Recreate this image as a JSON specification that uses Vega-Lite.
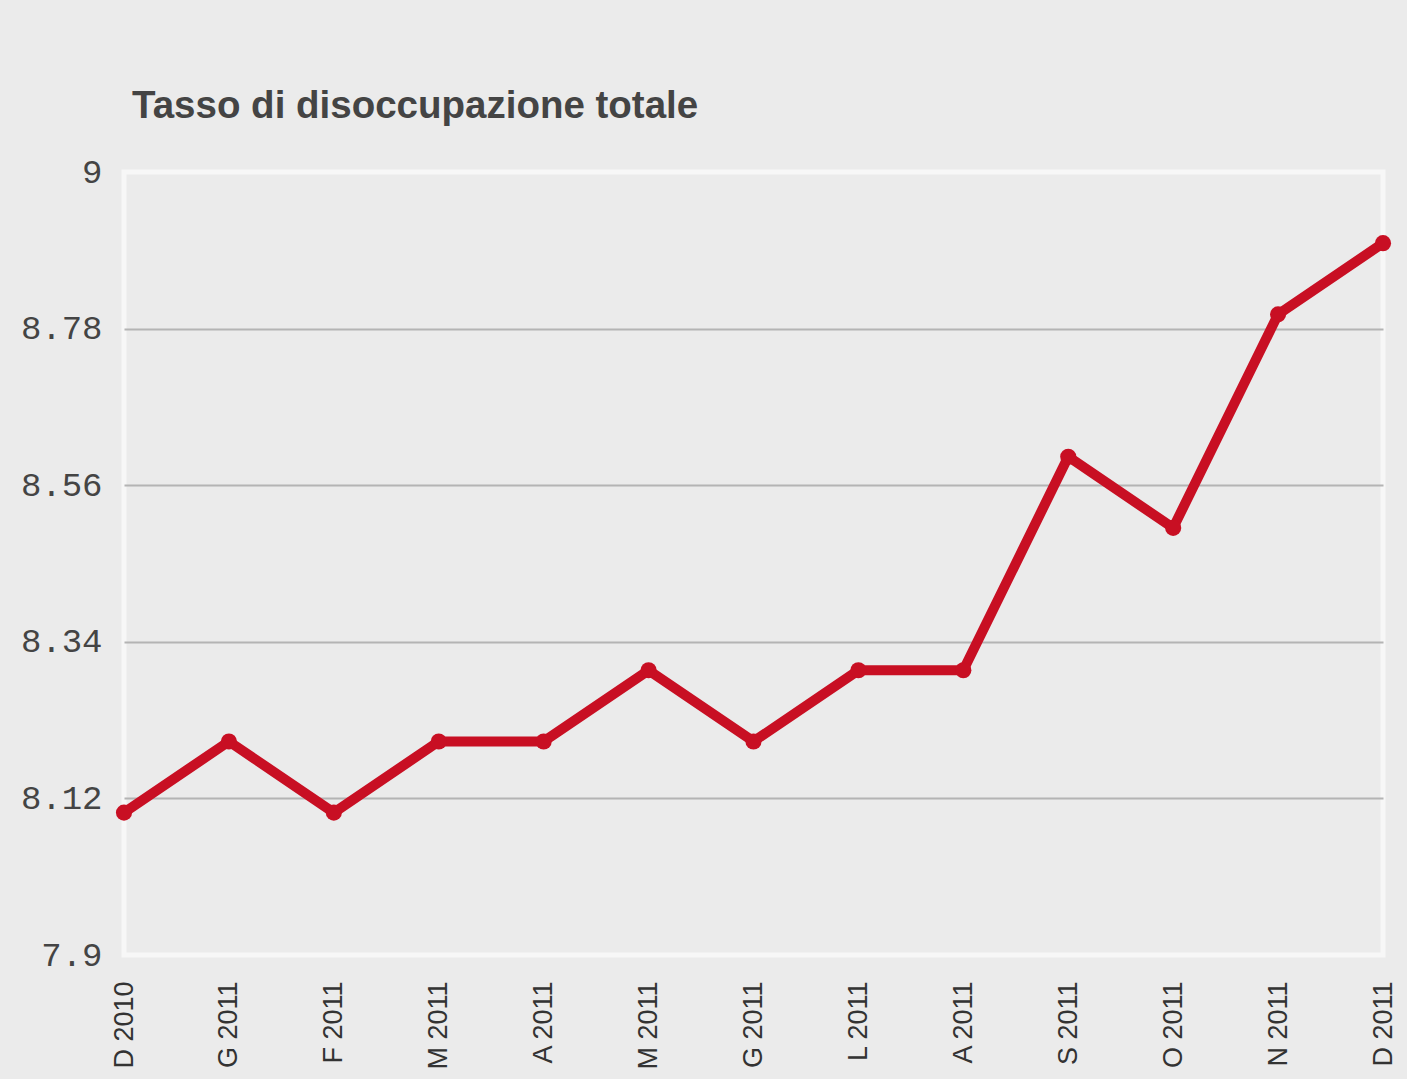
{
  "$schema": "https://vega.github.io/schema/vega-lite/v6.json",
  "autosize": {"type": "none"},
  "padding": {"left": 124, "top": 172, "right": 24, "bottom": 124},
  "width": 1259,
  "height": 783,
  "background": "#ebebeb",
  "title": {
    "text": "Tasso di disoccupazione totale",
    "anchor": "start",
    "frame": "group",
    "dx": 8,
    "offset": 29,
    "font": "Liberation Sans",
    "fontSize": 38.5,
    "fontWeight": "bold",
    "color": "#444444"
  },
  "config": {
    "view": {"fill": "#ebebeb", "stroke": "#f7f7f7", "strokeWidth": 5}
  },
  "data": {
    "values": [
      {"mese": "2010-12", "tasso": 8.1},
      {"mese": "2011-01", "tasso": 8.2},
      {"mese": "2011-02", "tasso": 8.1},
      {"mese": "2011-03", "tasso": 8.2},
      {"mese": "2011-04", "tasso": 8.2},
      {"mese": "2011-05", "tasso": 8.3},
      {"mese": "2011-06", "tasso": 8.2},
      {"mese": "2011-07", "tasso": 8.3},
      {"mese": "2011-08", "tasso": 8.3},
      {"mese": "2011-09", "tasso": 8.6},
      {"mese": "2011-10", "tasso": 8.5},
      {"mese": "2011-11", "tasso": 8.8},
      {"mese": "2011-12", "tasso": 8.9}
    ]
  },
  "mark": {
    "type": "line",
    "color": "#c80f23",
    "strokeWidth": 10,
    "strokeJoin": "miter",
    "point": {"filled": true, "size": 260, "color": "#c80f23"}
  },
  "encoding": {
    "x": {
      "field": "mese",
      "type": "ordinal",
      "sort": null,
      "scale": {"type": "point", "padding": 0},
      "axis": {
        "title": null,
        "labelAngle": -90,
        "labelExpr": "['G','F','M','A','M','G','L','A','S','O','N','D'][toNumber(slice(datum.value,5,7))-1] + ' ' + slice(datum.value,0,4)",
        "labelFont": "Liberation Sans",
        "labelFontSize": 27,
        "labelColor": "#333333",
        "labelPadding": 26,
        "ticks": false,
        "domain": false,
        "grid": false
      }
    },
    "y": {
      "field": "tasso",
      "type": "quantitative",
      "scale": {"domain": [7.9, 9], "nice": false, "zero": false},
      "axis": {
        "title": null,
        "values": [7.9, 8.12, 8.34, 8.56, 8.78, 9],
        "format": ".4~g",
        "labelFont": "Liberation Mono",
        "labelFontSize": 34,
        "labelColor": "#444444",
        "labelPadding": 22,
        "labelBaseline": "middle",
        "ticks": false,
        "domain": false,
        "grid": true,
        "gridColor": {"condition": {"test": "datum.value === 9 || datum.value === 7.9", "value": "#f7f7f7"}, "value": "#b4b4b4"},
        "gridWidth": 2
      }
    }
  }
}
